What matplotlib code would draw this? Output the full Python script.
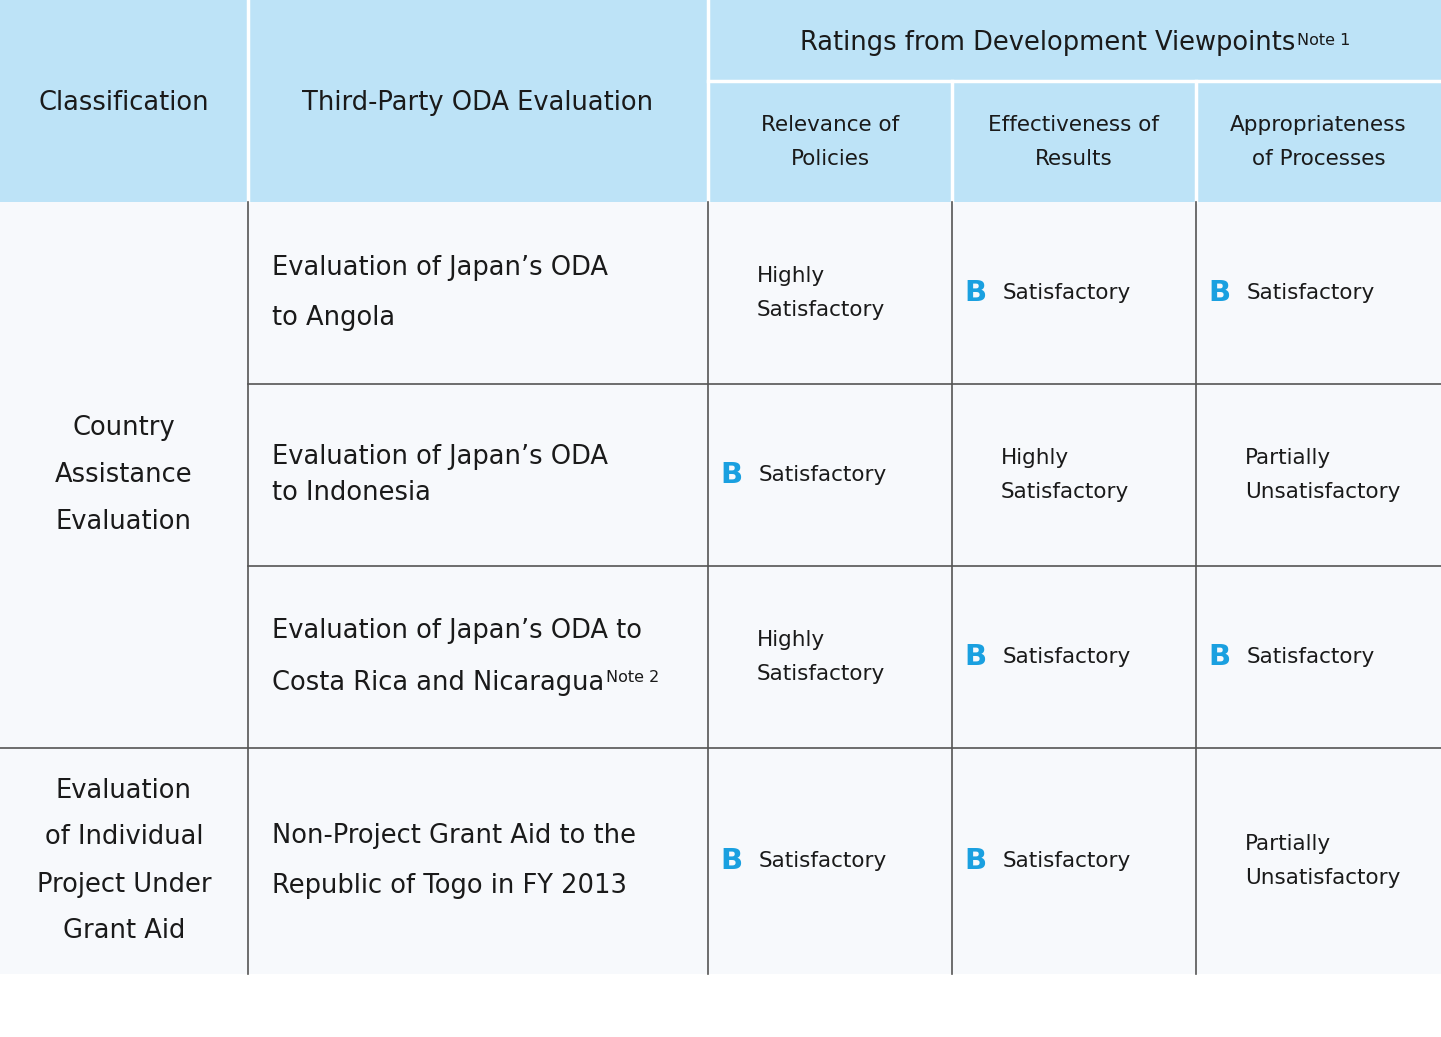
import matplotlib
matplotlib.use("Agg")
import matplotlib.pyplot as plt
from matplotlib.patches import Rectangle

classifications = ["Country\nAssistance\nEvaluation", "Evaluation\nof Individual\nProject Under\nGrant Aid"]
class_spans = [3, 1]
evaluations = [["Evaluation of Japan’s ODA", "to Angola"],
               ["Evaluation of Japan’s ODA", "to Indonesia"],
               ["Evaluation of Japan’s ODA to", "Costa Rica and Nicaragua"],
               ["Non-Project Grant Aid to the", "Republic of Togo in FY 2013"]]
eval_notes = ["", "", "Note 2", ""]
sub_headers = ["Relevance of\nPolicies", "Effectiveness of\nResults", "Appropriateness\nof Processes"]
ratings = [["Highly Satisfactory", "Satisfactory", "Satisfactory"],
           ["Satisfactory", "Highly Satisfactory", "Partially Unsatisfactory"],
           ["Highly Satisfactory", "Satisfactory", "Satisfactory"],
           ["Satisfactory", "Satisfactory", "Partially Unsatisfactory"]]
rating_letter = {"Satisfactory": "B", "Highly Satisfactory": "", "Partially Unsatisfactory": ""}

FONT = "DejaVu Sans"
HEAD_BG = "#bde3f7"
BODY_BG = "#f7f9fc"
TXT = "#1a1a1a"
BLUE = "#1aa0e0"

col_x = [0, 248, 708, 952, 1196, 1441]
row_y = [202, 384, 566, 748, 974]

fig = plt.figure(figsize=(14.41, 10.37), dpi=100)
ax = fig.add_axes([0, 0, 1, 1])
ax.set_xlim(0, 1441)
ax.set_ylim(1037, 0)
ax.axis("off")

ax.add_patch(Rectangle((0, 0), 1441, 202, color=HEAD_BG, lw=0))
for x in col_x[1:-1]:
    ax.plot([x, x], [0 if x <= 708 else 81, 202], color="white", lw=2.5)
ax.plot([708, 1441], [81, 81], color="white", lw=2.5)

ax.text(124, 103, "Classification", ha="center", va="center", fontsize=18.5, family=FONT, color=TXT)
ax.text(478, 103, "Third-Party ODA Evaluation", ha="center", va="center", fontsize=18.5, family=FONT, color=TXT)
t = ax.text(1048, 43, "Ratings from Development Viewpoints", ha="center", va="center", fontsize=18.5, family=FONT, color=TXT)
ax.annotate("Note 1", xy=(1, 1), xycoords=t, xytext=(1, -2), textcoords="offset points",
            ha="left", va="top", fontsize=11.5, family=FONT, color=TXT)
for i, s in enumerate(sub_headers):
    ax.text((col_x[i + 2] + col_x[i + 3]) / 2, 142, s, ha="center", va="center", fontsize=15.5,
            family=FONT, color=TXT, linespacing=1.85)

ax.add_patch(Rectangle((0, 202), 1441, 974 - 202, color=BODY_BG, lw=0))
for x in col_x[1:-1]:
    ax.plot([x, x], [202, 974], color="#555555", lw=1.2)
for j, y in enumerate(row_y[1:-1]):
    x0 = 0 if j == 2 else 248
    ax.plot([x0, 1441], [y, y], color="#555555", lw=1.2)

r = 0
for c, span in zip(classifications, class_spans):
    yc = (row_y[r] + row_y[r + span]) / 2
    ax.text(124, yc, c, ha="center", va="center", fontsize=18.5, family=FONT, color=TXT, linespacing=2.05)
    r += span

for i, (ev, note) in enumerate(zip(evaluations, eval_notes)):
    yc = (row_y[i] + row_y[i + 1]) / 2
    gap = 26 if i == 2 else (18 if i == 1 else 25)
    ax.text(272, yc - gap, ev[0], ha="left", va="center", fontsize=18.5, family=FONT, color=TXT)
    t2 = ax.text(272, yc + gap, ev[1], ha="left", va="center", fontsize=18.5, family=FONT, color=TXT)
    if note:
        ax.annotate(note, xy=(1, 1), xycoords=t2, xytext=(1, 0), textcoords="offset points",
                    ha="left", va="top", fontsize=11.5, family=FONT, color=TXT)
    for k, rt in enumerate(ratings[i]):
        x0 = col_x[k + 2]
        letter = rating_letter[rt]
        if letter:
            ax.text(x0 + 12, yc, letter, ha="left", va="center", fontsize=21, family=FONT,
                    weight="bold", color=BLUE)
            ax.text(x0 + 51, yc, rt, ha="left", va="center", fontsize=15.5, family=FONT, color=TXT)
        else:
            ax.text(x0 + 49, yc, rt.replace(" ", "\n"), ha="left", va="center", fontsize=15.5,
                    family=FONT, color=TXT, linespacing=1.85)

fig.savefig("out.png", dpi=100, facecolor="white")
